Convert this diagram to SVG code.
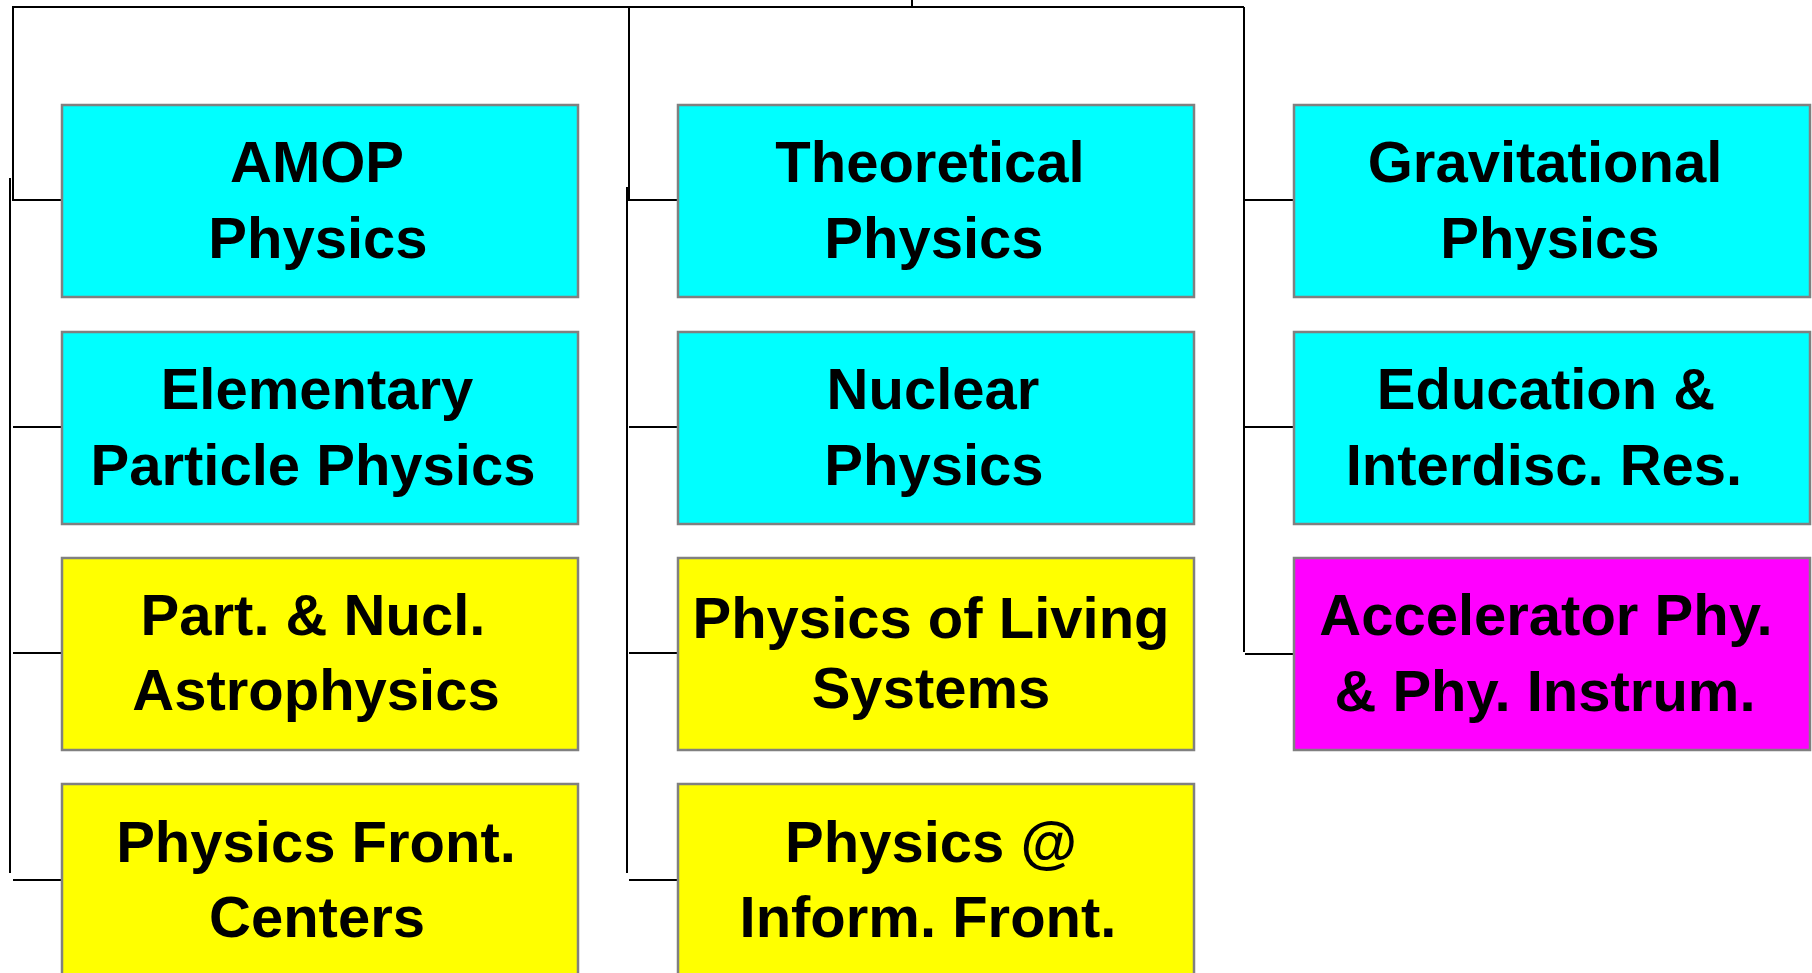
<svg xmlns="http://www.w3.org/2000/svg" width="1812" height="973" viewBox="0 0 1812 973">
<style>
.box{stroke:#808080;stroke-width:2.5}
.c{fill:#00FFFF}.y{fill:#FFFF00}.m{fill:#FF00FF}
text{font-family:"Liberation Sans",Arial,sans-serif;font-weight:bold;font-size:58px;fill:#000;text-anchor:middle}
.ln{fill:none;stroke:#000;stroke-width:2}
</style>
<rect width="1812" height="973" fill="#fff"/>
<g id="connectors">
<path class="ln" d="M12,7 H1244 M912,0 V7"/>
<path class="ln" d="M13,7 V200 H62 M10,178 V873 M13,427 H62 M13,653 H62 M13,880 H62"/>
<path class="ln" d="M629,7 V200 H678 M627,187 V873 M629,427 H678 M629,653 H678 M629,880 H678"/>
<path class="ln" d="M1244,7 V652 M1244,200 H1294 M1245,427 H1294 M1245,654 H1294"/>
</g>
<g id="amop"><rect class="box c" x="62" y="105" width="516" height="192"/><text x="317" y="182">AMOP</text><text x="318" y="258">Physics</text></g>
<g id="elementary"><rect class="box c" x="62" y="332" width="516" height="192"/><text x="317" y="409">Elementary</text><text x="313" y="485">Particle Physics</text></g>
<g id="astro"><rect class="box y" x="62" y="558" width="516" height="192"/><text x="313" y="635">Part. &amp; Nucl.</text><text x="316" y="710">Astrophysics</text></g>
<g id="pfc"><rect class="box y" x="62" y="784" width="516" height="200"/><text x="316" y="862">Physics Front.</text><text x="317" y="937">Centers</text></g>
<g id="theoretical"><rect class="box c" x="678" y="105" width="516" height="192"/><text x="930" y="182">Theoretical</text><text x="934" y="258">Physics</text></g>
<g id="nuclear"><rect class="box c" x="678" y="332" width="516" height="192"/><text x="933" y="409">Nuclear</text><text x="934" y="485">Physics</text></g>
<g id="living"><rect class="box y" x="678" y="558" width="516" height="192"/><text x="931" y="638">Physics of Living</text><text x="931" y="708">Systems</text></g>
<g id="inform"><rect class="box y" x="678" y="784" width="516" height="200"/><text x="931" y="862">Physics @</text><text x="928" y="937">Inform. Front.</text></g>
<g id="gravitational"><rect class="box c" x="1294" y="105" width="516" height="192"/><text x="1545" y="182">Gravitational</text><text x="1550" y="258">Physics</text></g>
<g id="education"><rect class="box c" x="1294" y="332" width="516" height="192"/><text x="1546" y="409">Education &amp;</text><text x="1544" y="485">Interdisc. Res.</text></g>
<g id="accelerator"><rect class="box m" x="1294" y="558" width="516" height="192"/><text x="1546" y="635">Accelerator Phy.</text><text x="1545" y="711">&amp; Phy. Instrum.</text></g>
</svg>
